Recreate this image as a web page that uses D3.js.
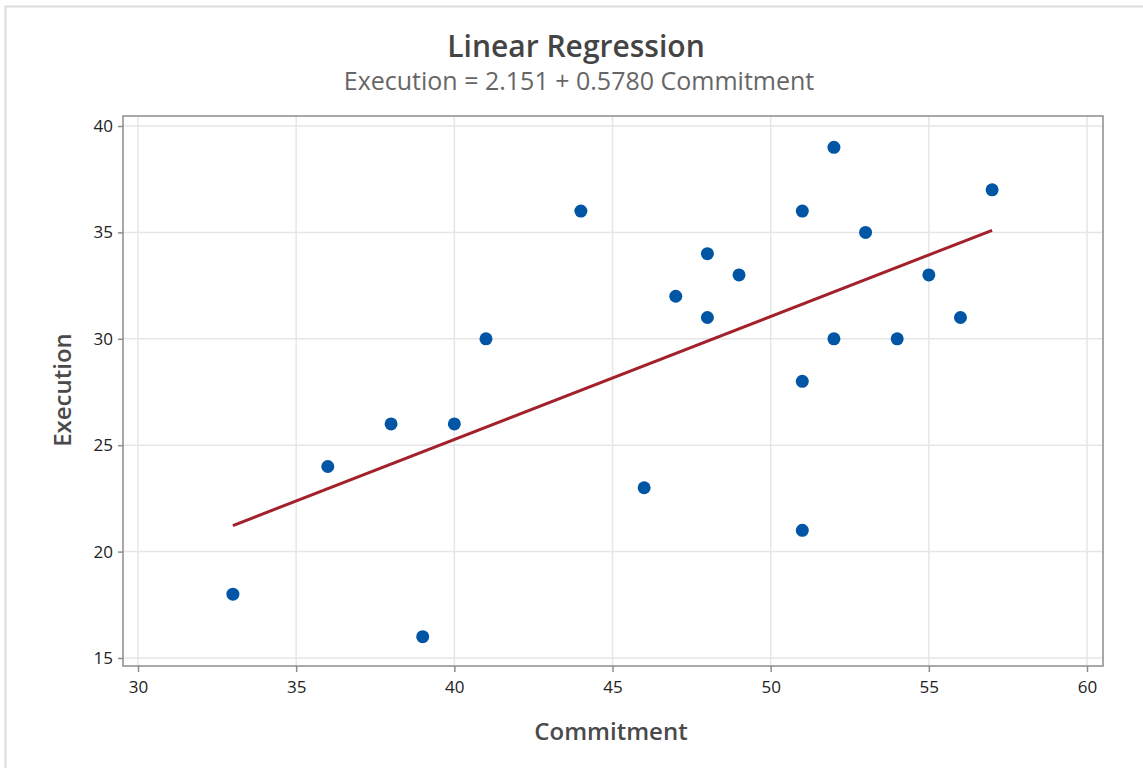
<!DOCTYPE html>
<html><head><meta charset="utf-8">
<script src="https://cdn.jsdelivr.net/npm/d3@7"></script>
<style>body{margin:0;background:#fff;} svg{display:block;}</style>
</head><body>
<script>
const commitment = [33,36,38,39,40,41,44,46,47,48,48,49,51,51,51,52,52,53,54,55,56,57];
const execution  = [18,24,26,16,26,30,36,23,32,34,31,33,36,28,21,39,30,35,30,33,31,37];
const intercept = 2.151, slope = 0.5780;
const xTicks = [30,35,40,45,50,55,60];
const yTicks = [15,20,25,30,35,40];
const titleText = "Linear Regression";
const subtitleText = "Execution = 2.151 + 0.5780 Commitment";
const xLabel = "Commitment", yLabel = "Execution";

const W = 1143, H = 768;
const svg = d3.select("body").append("svg").attr("width", W).attr("height", H);
const font = "'Open Sans', 'Noto Sans', sans-serif";

svg.append("rect").attr("x",5.5).attr("y",6.5).attr("width",W).attr("height",H)
  .attr("fill","none").attr("stroke","#dcdcdc").attr("stroke-width",2);

const L = 123, R = 1103, T = 116, B = 666;
const xpx = (1087-138)/30;
const x = d3.scaleLinear().domain([30 - (138-L)/xpx, 30 + (R-138)/xpx]).range([L, R]);
const ypx = (658-126)/25;
const y = d3.scaleLinear().domain([15 - (B-658)/ypx, 40 + (126-T)/ypx]).range([B, T]);

// grid
svg.append("g").selectAll("line").data(xTicks).join("line")
  .attr("x1", d=>x(d)).attr("x2", d=>x(d)).attr("y1", T).attr("y2", B)
  .attr("stroke","#e6e6e6").attr("stroke-width",1.5);
svg.append("g").selectAll("line").data(yTicks).join("line")
  .attr("y1", d=>y(d)).attr("y2", d=>y(d)).attr("x1", L).attr("x2", R)
  .attr("stroke","#e6e6e6").attr("stroke-width",1.5);

// frame
svg.append("rect").attr("x",L).attr("y",T).attr("width",R-L).attr("height",B-T)
  .attr("fill","none").attr("stroke","#8c8c8c").attr("stroke-width",1.5);

// axes
const xAxis = svg.append("g").attr("transform",`translate(0,${B})`)
  .call(d3.axisBottom(x).tickValues(xTicks).tickSize(6).tickPadding(9));
const yAxis = svg.append("g").attr("transform",`translate(${L},0)`)
  .call(d3.axisLeft(y).tickValues(yTicks).tickSize(5).tickPadding(5));
[xAxis,yAxis].forEach(a=>{
  a.select(".domain").remove();
  a.selectAll(".tick line").attr("stroke","#8c8c8c").attr("stroke-width",1.5);
  a.selectAll(".tick text").attr("fill","#222").style("font-family",font)
    .style("font-size","17px").style("font-weight","500");
});

// regression line
const xmin = d3.min(commitment), xmax = d3.max(commitment);
svg.append("line")
  .attr("x1", x(xmin)).attr("y1", y(intercept + slope*xmin))
  .attr("x2", x(xmax)).attr("y2", y(intercept + slope*xmax))
  .attr("stroke","#a3212a").attr("stroke-width",3);

// points
svg.append("g").selectAll("circle").data(commitment).join("circle")
  .attr("cx", d=>x(d)).attr("cy", (d,i)=>y(execution[i])).attr("r",6.5)
  .attr("fill","#0055a5");

// titles
svg.append("text").attr("x",576).attr("y",57).attr("text-anchor","middle")
  .style("font-family",font).style("font-size","30px").style("font-weight","600")
  .attr("fill","#444").text(titleText);
svg.append("text").attr("x",579).attr("y",90).attr("text-anchor","middle")
  .style("font-family",font).style("font-size","25px")
  .attr("fill","#666").text(subtitleText);
svg.append("text").attr("x",611).attr("y",740).attr("text-anchor","middle")
  .style("font-family",font).style("font-size","24px").style("font-weight","600")
  .attr("fill","#4a4a4a").text(xLabel);
svg.append("text").attr("transform","translate(71,390) rotate(-90)").attr("text-anchor","middle")
  .style("font-family",font).style("font-size","24px").style("font-weight","600")
  .attr("fill","#4a4a4a").text(yLabel);
</script>
</body></html>
